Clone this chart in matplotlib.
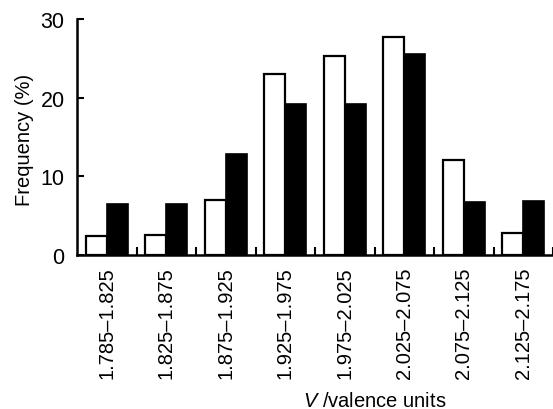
import numpy as np
import matplotlib
matplotlib.use("Agg")
import matplotlib.pyplot as plt

plt.rcParams['font.family'] = ['Liberation Sans', 'DejaVu Sans']
plt.rcParams['mathtext.fontset'] = 'custom'
plt.rcParams['mathtext.it'] = 'Liberation Sans:italic'
plt.rcParams['mathtext.rm'] = 'Liberation Sans'

# Data
bins = ["1.785\u20131.825", "1.825\u20131.875", "1.875\u20131.925", "1.925\u20131.975",
        "1.975\u20132.025", "2.025\u20132.075", "2.075\u20132.125", "2.125\u20132.175"]
open_vals = [2.4, 2.5, 7.0, 23.0, 25.3, 27.7, 12.1, 2.8]
filled_vals = [6.5, 6.5, 12.8, 19.2, 19.2, 25.5, 6.8, 6.9]

fig = plt.figure(figsize=(5.53, 4.10), dpi=100)
ax = fig.add_axes([77/553, 1 - 256/410, 1 - 77/553, (256 - 20)/410])

x = np.arange(len(bins))
w = 0.35
ax.bar(x - w/2, open_vals, w, color='white', edgecolor='black', linewidth=1.6)
ax.bar(x + w/2, filled_vals, w, color='black', edgecolor='black', linewidth=1.2)

ax.set_xlim(-0.5, 7.5)
ax.set_ylim(0, 30)
ax.set_yticks([0, 10, 20, 30])
ax.set_xticks(x)
ax.set_xticklabels(bins, rotation=90)
ax.set_xticks(x + 0.5, minor=True)

for s in ['top', 'right']:
    ax.spines[s].set_visible(False)
for s in ['left', 'bottom']:
    ax.spines[s].set_linewidth(1.8)

ax.tick_params(axis='y', direction='in', length=5, width=1.5, labelsize=15.5, pad=9)
ax.tick_params(axis='x', which='major', length=0, labelsize=14.5, pad=8)
ax.tick_params(axis='x', which='minor', direction='in', length=6, width=1.5)

fig.text(24/553, 1 - 140/410, "Frequency (%)", rotation=90, ha='center', va='center', fontsize=14.5)
fig.text(375/553, 1 - 407/410, "$V$ /valence units", ha='center', va='baseline', fontsize=14.5)

fig.savefig("out.png", dpi=100)
